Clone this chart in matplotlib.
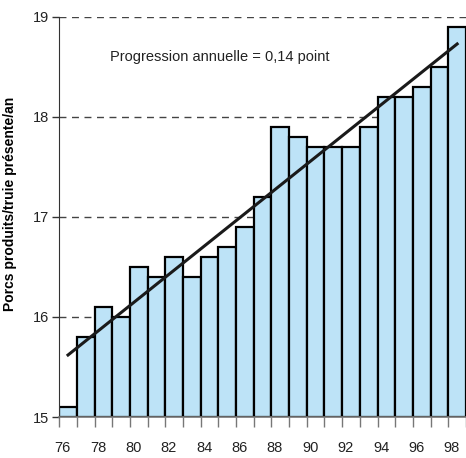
import numpy as np
from matplotlib import pyplot as plt

plt.rcParams['font.family'] = ['Liberation Sans', 'DejaVu Sans']

years = list(range(76, 99))
porcs = [15.1, 15.8, 16.1, 16.0, 16.5, 16.4, 16.6, 16.4, 16.6, 16.7, 16.9, 17.2,
         17.9, 17.8, 17.7, 17.7, 17.7, 17.9, 18.2, 18.2, 18.3, 18.5, 18.9]
trend_years = [76, 98]
trend_values = [15.62, 18.73]
year_labels = [str(y) for y in range(76, 99, 2)]
y_ticks = [15, 16, 17, 18, 19]

fig = plt.figure(figsize=(4.66, 4.58), dpi=100)
ax = fig.add_axes([0.127, 0.0895, 0.873, 0.8735])

# dashed guide lines behind the bars
for v in y_ticks[1:]:
    ax.axhline(v, color='#444444', lw=1, ls=(0, (5, 4)), zorder=0)

ax.bar(years, [p - 15 for p in porcs], bottom=15, width=1.0,
       color='#bde3f7', edgecolor='black', linewidth=1.6, zorder=2)
ax.plot(trend_years, trend_values, color='#1a1a1a', lw=2.2, zorder=3)

ax.text(84.6, 18.6, 'Progression annuelle = 0,14 point', fontsize=10.5,
        ha='center', va='center', color='#222222')

ax.set_xlim(75.5, 98.5)
ax.set_ylim(15, 19)

ax.set_yticks(y_ticks)
ax.tick_params(axis='y', length=5, width=1, color='#333333', labelsize=10.5,
               pad=2, labelcolor='#222222')

edges = np.arange(75.5, 99.0, 1.0)
ax.set_xticks(edges, minor=True)
ax.set_xticks([int(l) - 0.3 for l in year_labels])
ax.set_xticklabels(year_labels)
ax.tick_params(axis='x', which='minor', length=7, width=1, color='#777777')
ax.tick_params(axis='x', which='major', length=0, pad=17, labelsize=10.5,
               labelcolor='#222222')

ax.spines['top'].set_visible(False)
ax.spines['right'].set_visible(False)
ax.spines['bottom'].set_color('#777777')
ax.spines['left'].set_color('#333333')
ax.spines['bottom'].set_linewidth(1.2)

ax.set_ylabel('Porcs produits/truie présente/an', fontsize=10,
              fontweight='bold')
ax.yaxis.set_label_coords(-0.103, 0.532)

fig.savefig('out.png', dpi=100)
